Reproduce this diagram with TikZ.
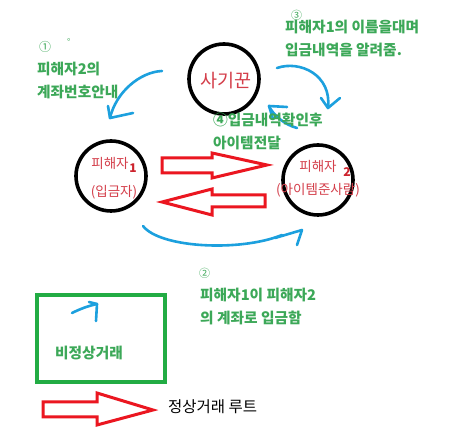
\documentclass[tikz,border=0pt]{standalone}
\usepackage{fontspec}
\setmainfont{Noto Sans CJK KR}
\definecolor{gtext}{RGB}{60,168,88}
\definecolor{rtext}{RGB}{212,62,74}
\definecolor{rdark}{RGB}{205,35,45}
\definecolor{barrow}{RGB}{28,160,222}
\definecolor{rarrow}{RGB}{235,22,32}
\definecolor{gbox}{RGB}{34,172,68}
\begin{document}
\begin{tikzpicture}[x=1pt,y=-1pt,
  person/.style={circle,draw=black,line width=3.6pt,minimum size=70pt,inner sep=0pt},
  glabel/.style={anchor=west,inner sep=0pt,text=gtext,font=\fontsize{14.7}{16}\selectfont\bfseries},
  ctext/.style={inner sep=0pt,text=rtext,font=\fontsize{13.5}{15}\selectfont},
  numtext/.style={inner sep=0pt,text=rdark,font=\fontsize{12}{14}\selectfont\bfseries},
  blueline/.style={draw=barrow,line width=2.6pt,line cap=round,line join=round},
  blockarrow/.style={draw=rarrow,line width=3pt,line join=miter,fill=white}]
\useasboundingbox (0,0) rectangle (451,443);
\fill[white] (0,0) rectangle (451,443);

% circles
\node[person] (scam) at (224,79) {};
\node[inner sep=0pt,text=rtext,font=\fontsize{18.5}{20}\selectfont] (scamtxt) at (226,81) {사기꾼};
\node[person] (v1) at (111,176) {};
\node[ctext] (v1a) at (110,163) {피해자};
\node[numtext] (v1n) at (133,168) {1};
\node[ctext] (v1b) at (114,192) {(입금자)};
\node[person] (v2) at (318,180) {};
\node[ctext] (v2a) at (318,166) {피해자};
\node[numtext] (v2n) at (347,172) {2};
\node[ctext] (v2b) at (318,190) {(아이템준사람)};

% red block arrows
\draw[blockarrow] (162,158) -- (212,158) -- (212,153) -- (267,165) -- (212,178) -- (212,173) -- (162,173) -- cycle;
\draw[blockarrow] (265,195) -- (212,195) -- (212,189) -- (162,202) -- (212,215) -- (212,207) -- (265,207) -- cycle;
\draw[blockarrow] (43,402) -- (97,402) -- (97,393) -- (153,410) -- (97,425) -- (97,417) -- (43,417) -- cycle;

% blue hand-drawn arrows
\coordinate (a1s) at (162,71);
\coordinate (a1t) at (110,118);
\draw[blueline] (a1s) .. controls (140,72) and (116,92) .. (a1t);
\draw[blueline] (108,106) -- (a1t) -- (133,113);

\coordinate (a2s) at (277,68);
\coordinate (a2t) at (328,108);
\draw[blueline] (a2s) .. controls (300,60) and (332,75) .. (a2t);
\draw[blueline] (321,98) -- (a2t) -- (340,98);

\coordinate (a3s) at (297,128);
\coordinate (a3t) at (269,106);
\draw[blueline] (a3s) .. controls (285,125) and (273,115) .. (a3t);
\draw[blueline] (287,107) -- (a3t) -- (273,119);

\coordinate (a4s) at (143,226);
\coordinate (a4t) at (302,230);
\draw[blueline] (a4s) .. controls (160,248) and (240,252) .. (282,235);
\draw[blueline] (275,238) -- (a4t) -- (297,245);

\coordinate (a5s) at (72,313);
\coordinate (a5t) at (97,304);
\draw[blueline] (a5s) .. controls (80,309) and (88,306) .. (a5t);
\draw[blueline] (89,302) -- (a5t) -- (96,321);

% green box
\draw[draw=gbox,line width=3.5pt] (37,295) rectangle (165,382);

% green labels
\node[glabel,font=\fontsize{12}{14}\selectfont] (n1) at (39,47) {①};
\node[glabel,font=\fontsize{9}{10}\selectfont] (n1o) at (67,42) {°};
\node[glabel] (t1a) at (37,69) {피해자2의};
\node[glabel] (t1b) at (37,92) {계좌번호안내};
\node[glabel,font=\fontsize{11}{13}\selectfont] (n3) at (291,15) {③};
\node[glabel] (t3a) at (285,27) {피해자1의 이름을대며};
\node[glabel] (t3b) at (285,50) {입금내역을 알려줌.};
\node[glabel] (t4a) at (213,120) {④입금내역확인후};
\node[glabel] (t4b) at (213,143) {아이템전달};
\node[glabel,font=\fontsize{11}{13}\selectfont] (n2) at (199,273) {②};
\node[glabel] (t2a) at (200,295) {피해자1이 피해자2};
\node[glabel] (t2b) at (200,318) {의 계좌로 입금함};
\node[glabel] (t5) at (55,353) {비정상거래};
\node[anchor=west,inner sep=0pt,font=\fontsize{15.5}{17}\selectfont] (t6) at (168,407) {정상거래 루트};
\end{tikzpicture}
\end{document}
